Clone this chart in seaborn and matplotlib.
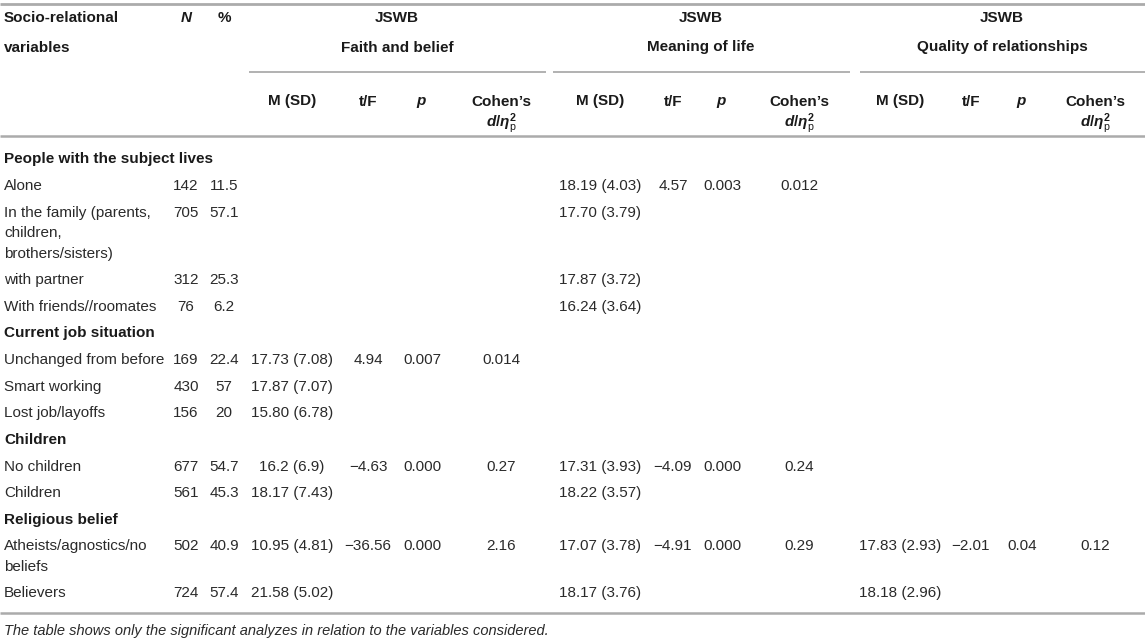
import matplotlib
matplotlib.use("Agg")
import matplotlib.pyplot as plt
import seaborn as sns
import pandas as pd

# ─── Data ───────────────────────────────────────────────────────────────────
row_labels = [
    "People with the subject lives", "Alone",
    "In the family (parents,\nchildren,\nbrothers/sisters)",
    "with partner", "With friends//roomates",
    "Current job situation", "Unchanged from before", "Smart working", "Lost job/layoffs",
    "Children", "No children", "Children",
    "Religious belief", "Atheists/agnostics/no\nbeliefs", "Believers",
]
is_heading = [True, False, False, False, False,
              True, False, False, False,
              True, False, False,
              True, False, False]
n_vals   = ["", "142", "705", "312", "76", "", "169", "430", "156", "", "677", "561", "", "502", "724"]
pct_vals = ["", "11.5", "57.1", "25.3", "6.2", "", "22.4", "57", "20", "", "54.7", "45.3", "", "40.9", "57.4"]

faith_msd = ["", "", "", "", "", "", "17.73 (7.08)", "17.87 (7.07)", "15.80 (6.78)", "",
             "16.2 (6.9)", "18.17 (7.43)", "", "10.95 (4.81)", "21.58 (5.02)"]
faith_tf  = ["", "", "", "", "", "", "4.94", "", "", "", "\u22124.63", "", "", "\u221236.56", ""]
faith_p   = ["", "", "", "", "", "", "0.007", "", "", "", "0.000", "", "", "0.000", ""]
faith_d   = ["", "", "", "", "", "", "0.014", "", "", "", "0.27", "", "", "2.16", ""]

meaning_msd = ["", "18.19 (4.03)", "17.70 (3.79)", "17.87 (3.72)", "16.24 (3.64)", "", "", "", "", "",
               "17.31 (3.93)", "18.22 (3.57)", "", "17.07 (3.78)", "18.17 (3.76)"]
meaning_tf  = ["", "4.57", "", "", "", "", "", "", "", "", "\u22124.09", "", "", "\u22124.91", ""]
meaning_p   = ["", "0.003", "", "", "", "", "", "", "", "", "0.000", "", "", "0.000", ""]
meaning_d   = ["", "0.012", "", "", "", "", "", "", "", "", "0.24", "", "", "0.29", ""]

quality_msd = ["", "", "", "", "", "", "", "", "", "", "", "", "", "17.83 (2.93)", "18.18 (2.96)"]
quality_tf  = ["", "", "", "", "", "", "", "", "", "", "", "", "", "\u22122.01", ""]
quality_p   = ["", "", "", "", "", "", "", "", "", "", "", "", "", "0.04", ""]
quality_d   = ["", "", "", "", "", "", "", "", "", "", "", "", "", "0.12", ""]

group_names = ["Faith and belief", "Meaning of life", "Quality of relationships"]
sub_headers = ["M (SD)", "t/F", "$\\mathbfit{p}$", "Cohen\u2019s"]
footnote = "The table shows only the significant analyzes in relation to the variables considered."

df = pd.DataFrame({
    "label": row_labels, "heading": is_heading, "N": n_vals, "pct": pct_vals,
    "f_msd": faith_msd, "f_tf": faith_tf, "f_p": faith_p, "f_d": faith_d,
    "m_msd": meaning_msd, "m_tf": meaning_tf, "m_p": meaning_p, "m_d": meaning_d,
    "q_msd": quality_msd, "q_tf": quality_tf, "q_p": quality_p, "q_d": quality_d,
})

# ─── Style ──────────────────────────────────────────────────────────────────
sns.set_theme(style="white")
plt.rcParams["font.family"] = ["Liberation Sans", "DejaVu Sans"]
plt.rcParams.update({
    "mathtext.fontset": "custom",
    "mathtext.rm": "Liberation Sans",
    "mathtext.it": "Liberation Sans:italic",
    "mathtext.bf": "Liberation Sans:bold",
    "mathtext.bfit": "Liberation Sans:bold:italic",
})

TEXT = "#2a2a2a"
HEAD = "#1a1a1a"
RULE = "#ababab"
FS = 11

# ─── Layout (pixel space) ───────────────────────────────────────────────────
W, H = 1145, 641
LABEL_X = 4
N_X, PCT_X = 186, 224
GROUP_COLS = {
    "f": [292, 368, 422, 501],
    "m": [600, 673, 722, 799],
    "q": [900, 971, 1022, 1095],
}
GROUP_CENTER = [397, 701, 1002]
GROUP_LINES = [(249, 546), (553, 850), (860, 1145)]
ROW0, ROW_STEP, LINE_STEP = 158, 26.6, 20.5
BASE = 5.5  # baseline offset from visual centre

fig = plt.figure(figsize=(W / 100, H / 100), dpi=100)
ax = fig.add_axes([0, 0, 1, 1])
ax.set_xlim(0, W)
ax.set_ylim(H, 0)
ax.axis("off")

def txt(x, y, s, ha="center", bold=False, italic=False, size=FS, color=None):
    # one text per line so every line sits on its own baseline
    for i, line in enumerate(s.split("\n")):
        ax.text(x, y + BASE + i * LINE_STEP, line, ha=ha, va="baseline", fontsize=size,
                fontweight="bold" if bold else "normal",
                fontstyle="italic" if italic else "normal",
                color=color or (HEAD if bold else TEXT))

# rules
ax.hlines(4, 0, W, color=RULE, lw=2.0)
for x0, x1 in GROUP_LINES:
    ax.hlines(72, x0, x1, color=RULE, lw=1.3)
ax.hlines(136, 0, W, color=RULE, lw=1.8)
ax.hlines(613, 0, W, color=RULE, lw=1.8)

# header
txt(LABEL_X, 16, "Socio-relational", ha="left", bold=True)
txt(LABEL_X, 46, "variables", ha="left", bold=True)
txt(N_X, 16, "N", bold=True, italic=True)
txt(PCT_X, 16, "%", bold=True)
for gi, key in enumerate(["f", "m", "q"]):
    txt(GROUP_CENTER[gi], 16, "JSWB", bold=True)
    txt(GROUP_CENTER[gi], 46, group_names[gi], bold=True)
    for ci, x in enumerate(GROUP_COLS[key]):
        txt(x, 100, sub_headers[ci], bold=True)
    txt(GROUP_COLS[key][3], 121,
        "$\\mathbfit{d}\\mathbf{/}\\mathbfit{\\eta}^{\\mathbf{2}}_{\\mathrm{p}}$", bold=True)

# body
y = ROW0
for _, r in df.iterrows():
    txt(LABEL_X, y, r["label"], ha="left", bold=r["heading"])
    if not r["heading"]:
        txt(N_X, y, r["N"])
        txt(PCT_X, y, r["pct"])
        for key in ["f", "m", "q"]:
            for ci, col in enumerate(["msd", "tf", "p", "d"]):
                txt(GROUP_COLS[key][ci], y, r[f"{key}_{col}"])
    y += ROW_STEP + LINE_STEP * r["label"].count("\n")

txt(LABEL_X, 630, footnote, ha="left", italic=True, size=FS - 0.5)

fig.savefig("out.png", dpi=100, facecolor="white")
plt.close()
